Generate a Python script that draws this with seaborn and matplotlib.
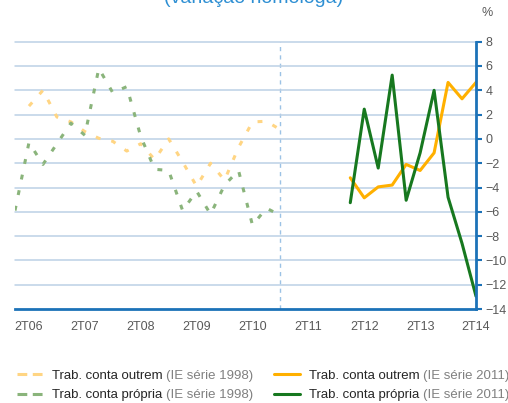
import numpy as np
import pandas as pd
import matplotlib.pyplot as plt
import matplotlib.transforms as mtransforms
from matplotlib.lines import Line2D
import seaborn as sns

# quarters from 1T06 to 2T14 (x = position in this list)
periodos = ['1T06', '2T06', '3T06', '4T06', '1T07', '2T07', '3T07', '4T07',
            '1T08', '2T08', '3T08', '4T08', '1T09', '2T09', '3T09', '4T09',
            '1T10', '2T10', '3T10', '4T10', '1T11', '2T11', '3T11', '4T11',
            '1T12', '2T12', '3T12', '4T12', '1T13', '2T13', '3T13', '4T13',
            '1T14', '2T14']
tick_labels = ['2T06', '2T07', '2T08', '2T09', '2T10', '2T11', '2T12', '2T13', '2T14']

# IE serie 1998 (1T06 .. 4T10)
outrem_1998 = [np.nan, 2.7, 4.0, 1.8, 1.4, 0.6, 0.05, -0.2, -1.0, -0.4,
               -1.7, 0.0, -1.9, -3.9, -2.0, -3.4, -0.7, 1.4, 1.45, 0.75]
propria_1998 = [-5.9, -0.3, -2.1, -0.4, 1.3, 0.3, 5.8, 3.8, 4.3, 0.2,
                -2.5, -2.6, -5.9, -4.3, -6.2, -3.8, -2.6, -7.1, -5.7, -6.3]
# IE serie 2011 (1T12 .. 2T14)
outrem_2011 = [-3.2, -4.85, -3.95, -3.8, -2.1, -2.6, -1.15, 4.65, 3.3, 4.65]
propria_2011 = [-5.25, 2.45, -2.4, 5.25, -5.05, -1.15, 4.0, -4.8, -8.6, -12.95]

rotulos = ['Trab. conta outrem', 'Trab. conta própria']
sufixos = ['(IE série 1998)', '(IE série 2011)']

df98 = pd.DataFrame({'periodo': periodos[:20], 'outrem': outrem_1998, 'propria': propria_1998})
df11 = pd.DataFrame({'periodo': periodos[24:], 'outrem': outrem_2011, 'propria': propria_2011})
df98['x'] = [periodos.index(p) for p in df98['periodo']]
df11['x'] = [periodos.index(p) for p in df11['periodo']]

sns.set_style('white')
plt.rcParams['font.family'] = ['Liberation Sans', 'DejaVu Sans']

c_o98, c_p98 = '#ffd583', '#8ab47b'
c_o11, c_p11 = '#ffb000', '#17781f'
azul = '#1c72b8'
cinza = '#595959'
dash98 = (0, (1.6, 3.6))

fig = plt.figure(figsize=(5.08, 4.03), dpi=100)
ax = fig.add_axes([15 / 508, 1 - 309 / 403, (476 - 15) / 508, (309 - 41.7) / 403])

sns.lineplot(data=df98, x='x', y='outrem', ax=ax, color=c_o98, lw=2.2, linestyle=dash98)
sns.lineplot(data=df98, x='x', y='propria', ax=ax, color=c_p98, lw=2.2, linestyle=dash98)
sns.lineplot(data=df11, x='x', y='outrem', ax=ax, color=c_o11, lw=2.2)
sns.lineplot(data=df11, x='x', y='propria', ax=ax, color=c_p11, lw=2.2)

ax.axvline(periodos.index('4T10'), color='#9cc2e5', lw=1, ls=(0, (3, 3)), zorder=0)

ax.set_xlim(0, len(periodos) - 1)
ax.set_ylim(-14, 8)
ax.set_yticks(np.arange(-14, 9, 2))
ax.yaxis.tick_right()
ax.set_xticks(range(len(periodos)))
ax.set_xticklabels([p if p in tick_labels else '' for p in periodos])
ax.set_xlabel('')
ax.set_ylabel('')

for gy in np.arange(-12, 9, 2):
    ax.axhline(gy, color='#bcd1e6', lw=1.1, zorder=0, clip_on=False)

for s in ['left', 'top']:
    ax.spines[s].set_visible(False)
for s in ['right', 'bottom']:
    ax.spines[s].set_color(azul)
    ax.spines[s].set_linewidth(2)

ax.tick_params(axis='x', direction='out', length=4, width=1.5, color=azul,
               labelcolor=cinza, labelsize=9, pad=5)
ax.tick_params(axis='y', direction='out', length=4, width=1.5, color=azul,
               labelcolor=cinza, labelsize=9, pad=3, right=True, left=False)

fig.text(0.5, 1 - 3 / 403, '(variação homóloga)', ha='center', va='baseline',
         color='#2e8fd3', fontsize=14)
fig.text(487 / 508, 1 - 13 / 403, '%', ha='center', va='center', color=cinza, fontsize=9)

# legend: two columns, dark label + grey suffix
h98 = [Line2D([], [], color=c_o98, lw=2.2, ls=(0, (3.2, 1.8))),
       Line2D([], [], color=c_p98, lw=2.2, ls=(0, (3.2, 1.8)))]
h11 = [Line2D([], [], color=c_o11, lw=2.2), Line2D([], [], color=c_p11, lw=2.2)]

legs = []
for hs, x0, suf in [(h98, 17, sufixos[0]), (h11, 274, sufixos[1])]:
    lg = fig.legend(hs, rotulos, loc='center left', bbox_to_anchor=(x0 / 508, 1 - 385.5 / 403),
                    frameon=False, fontsize=9.5, handlelength=2.0, handletextpad=0.62,
                    borderpad=0, borderaxespad=0, labelspacing=0.55, labelcolor='#262626')
    legs.append((lg, suf))

fig.canvas.draw()
for lg, suf in legs:
    for t in lg.get_texts():
        bb = t.get_window_extent()
        ox, oy = t.get_transform().transform(t.get_position())
        fig.text(bb.x1 + 4, oy, suf, ha='left', va='baseline', color='#808080',
                 fontsize=9.5, transform=mtransforms.IdentityTransform())

fig.savefig('out.png', dpi=100)
